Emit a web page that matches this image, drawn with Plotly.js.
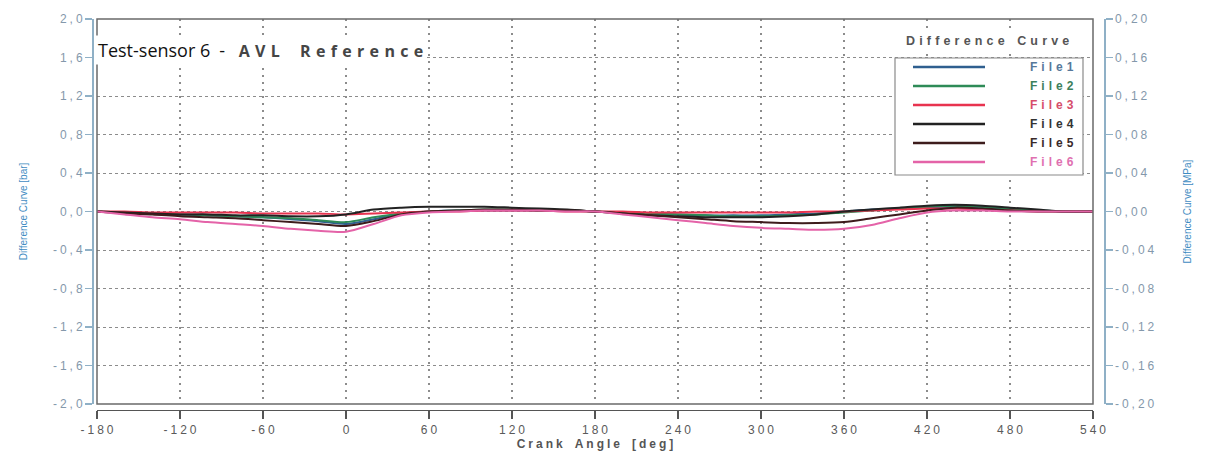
<!DOCTYPE html>
<html>
<head>
<meta charset="utf-8">
<script src="https://cdn.plot.ly/plotly-3.0.1.min.js"></script>
<style>
  html, body { margin: 0; padding: 0; background: #fff; }
  #chart { width: 1205px; height: 453px; }
</style>
</head>
<body>
<div id="chart"></div>
<script>
// Crank angle samples [deg]
const crankAngle = [-180,-160,-140,-120,-100,-80,-60,-40,-20,0,20,40,60,80,100,120,140,160,180,
  200,220,240,260,280,300,320,340,360,380,400,420,440,460,480,500,520,540];

// Difference curves [bar]
const file1 = [0,-0.01,-0.02,-0.03,-0.04,-0.05,-0.06,-0.08,-0.10,-0.13,-0.08,-0.02,0.0,0.01,0.01,0.01,0.01,0.01,0.0,
  -0.01,-0.02,-0.03,-0.04,-0.04,-0.04,-0.03,-0.02,0.0,0.02,0.03,0.04,0.05,0.04,0.02,0.01,0.0,0.0];
const file2 = [0,-0.01,-0.02,-0.03,-0.04,-0.05,-0.06,-0.07,-0.09,-0.11,-0.06,-0.02,0.0,0.01,0.02,0.02,0.01,0.01,0.0,
  -0.01,-0.02,-0.03,-0.04,-0.05,-0.05,-0.04,-0.03,-0.01,0.01,0.03,0.05,0.06,0.05,0.03,0.01,0.0,0.0];
const file3 = [0,0.0,-0.01,-0.01,-0.01,-0.01,-0.02,-0.02,-0.02,-0.03,-0.02,-0.01,0.0,0.0,0.01,0.01,0.01,0.0,0.0,
  0.0,-0.01,-0.01,-0.01,-0.01,-0.01,-0.01,0.0,0.0,0.01,0.02,0.03,0.03,0.02,0.01,0.0,0.0,0.0];
const file4 = [0,-0.01,-0.02,-0.03,-0.03,-0.04,-0.04,-0.05,-0.05,-0.03,0.02,0.04,0.05,0.05,0.05,0.04,0.03,0.02,0.0,
  -0.02,-0.04,-0.05,-0.06,-0.06,-0.06,-0.05,-0.03,0.0,0.02,0.04,0.06,0.07,0.06,0.04,0.02,0.0,0.0];
const file5 = [0,-0.02,-0.03,-0.05,-0.06,-0.07,-0.09,-0.11,-0.13,-0.15,-0.10,-0.03,0.0,0.01,0.02,0.02,0.01,0.01,0.0,
  -0.02,-0.04,-0.06,-0.08,-0.10,-0.11,-0.12,-0.12,-0.11,-0.07,-0.03,0.01,0.04,0.03,0.01,0.0,0.0,0.0];
const file6 = [0,-0.03,-0.06,-0.08,-0.11,-0.13,-0.15,-0.18,-0.20,-0.21,-0.13,-0.04,-0.01,0.0,0.01,0.01,0.01,0.0,0.0,
  -0.03,-0.06,-0.09,-0.12,-0.15,-0.17,-0.18,-0.19,-0.18,-0.14,-0.07,-0.01,0.01,0.01,0.0,0.0,0.0,0.0];

const seriesNames = ["File1","File2","File3","File4","File5","File6"];
const seriesData = [file1, file2, file3, file4, file5, file6];
const lineColors = ["#2f5f8f","#2e8b57","#e8334f","#222222","#3d1c1c","#e463a8"];
const labelColors = ["#56789a","#3d7f5c","#d64c6a","#333333","#3a2a2a","#e070b0"];

// Axis ticks
const xTicks = [-180,-120,-60,0,60,120,180,240,300,360,420,480,540];
const xTickText = ["-180","-120","-60","0","60","120","180","240","300","360","420","480","540"];
const yTicks = [2.0,1.6,1.2,0.8,0.4,0.0,-0.4,-0.8,-1.2,-1.6,-2.0];
const yTickText = ["2,0","1,6","1,2","0,8","0,4","0,0","-0,4","-0,8","-1,2","-1,6","-2,0"];
const y2Ticks = [0.20,0.16,0.12,0.08,0.04,0.00,-0.04,-0.08,-0.12,-0.16,-0.20];
const y2TickText = ["0,20","0,16","0,12","0,08","0,04","0,00","-0,04","-0,08","-0,12","-0,16","-0,20"];

// wide tracking, as in the instrument software labels
const track = (s, gap) => s.split("").join(gap || "\u2005");

// page geometry helpers (pixel -> paper)
const W = 1205, H = 453, ML = 92, MR = 101, MT = 19, MB = 43;
const PW = W - ML - MR, PH = H - MT - MB;
const px = x => (x - ML) / PW;
const py = y => (H - MB - y) / PH;

const traces = seriesData.map((ys, i) => ({
  type: "scatter", mode: "lines",
  x: crankAngle, y: ys, name: seriesNames[i],
  line: { color: lineColors[i], width: 2, shape: "spline", smoothing: 0.8 },
  xaxis: "x", yaxis: "y", hoverinfo: "x+y+name"
}));
// empty trace to carry the MPa axis
traces.push({ type: "scatter", mode: "lines", x: [], y: [], yaxis: "y2", showlegend: false, hoverinfo: "skip" });

const shapes = [
  // plot frame
  { type: "rect", xref: "paper", yref: "paper", x0: px(97), x1: px(1093), y0: py(404), y1: py(19),
    line: { color: "#6a6a6a", width: 1.5 }, layer: "above" },
  // legend box
  { type: "rect", xref: "paper", yref: "paper", x0: px(895), x1: px(1083), y0: py(175), y1: py(58),
    line: { color: "#8a8a8a", width: 1.2 }, fillcolor: "#ffffff", layer: "above" }
];
const annotations = [
  { xref: "paper", yref: "paper", x: px(95), y: py(50), xanchor: "left", yanchor: "middle",
    text: "Test-sensor 6\u2002-\u2002 <b><span style='font-size:16px;color:#454545'>" +
      track("AVL", "\u2004") + "\u2003 " + track("Reference", "\u2004") + "</span></b>",
    showarrow: false, bgcolor: "#ffffff", borderpad: 2,
    font: { family: "Open Sans, sans-serif", size: 18, color: "#111" } },
  { xref: "paper", yref: "paper", x: px(987), y: py(41), xanchor: "center", yanchor: "middle",
    text: "<b>" + track("Difference", "\u2004") + "\u2003" + track("Curve", "\u2004") + "</b>",
    showarrow: false, bgcolor: "#ffffff", borderpad: 2,
    font: { family: "Liberation Sans, Arial, sans-serif", size: 12.5, color: "#555" } }
];
seriesNames.forEach((n, i) => {
  const yy = 67 + i * 19;
  shapes.push({ type: "line", xref: "paper", yref: "paper", x0: px(913), x1: px(985), y0: py(yy), y1: py(yy),
    line: { color: lineColors[i], width: 2.6 }, layer: "above" });
  annotations.push({ xref: "paper", yref: "paper", x: px(1076), y: py(yy), xanchor: "right", yanchor: "middle",
    text: "<b>" + track(n, "\u2004") + "</b>", showarrow: false,
    font: { family: "Liberation Sans, Arial, sans-serif", size: 12, color: labelColors[i] } });
});

const layout = {
  width: W, height: H,
  margin: { l: ML, r: MR, t: MT, b: MB, pad: 0 },
  paper_bgcolor: "#ffffff", plot_bgcolor: "#ffffff",
  showlegend: false,
  font: { family: "Liberation Sans, Arial, sans-serif" },
  xaxis: {
    domain: [px(97), px(1093)], range: [-180, 540],
    anchor: "free", position: 0,
    tickvals: xTicks, ticktext: xTickText.map(s => track(s)),
    ticks: "outside", ticklen: 8, tickcolor: "#555", tickwidth: 1.2,
    showline: true, linecolor: "#555", linewidth: 1.2,
    showgrid: true, gridcolor: "#8c8c8c", griddash: "2px,5px", gridwidth: 1.3,
    zeroline: false,
    tickfont: { size: 12, color: "#5a5a5a" },
    title: { text: "<b>" + track("Crank") + "\u2003" + track("Angle") + "\u2003" + track("[deg]") + "</b>",
      font: { size: 12, color: "#555" }, standoff: 1 }
  },
  yaxis: {
    domain: [py(404), 1], range: [-2, 2],
    anchor: "free", position: 0,
    tickvals: yTicks, ticktext: yTickText.map(s => track(s)),
    ticks: "outside", ticklen: 7, tickcolor: "#8fb0c6", tickwidth: 1.2,
    showline: true, linecolor: "#8fb0c6", linewidth: 1.5,
    showgrid: true, gridcolor: "#8c8c8c", griddash: "3px,3px", gridwidth: 1,
    zeroline: false,
    tickfont: { size: 12, color: "#8498ab" },
    title: { text: "Difference Curve [bar]", font: { size: 10, color: "#3f8cc2" }, standoff: 22 }
  },
  yaxis2: {
    domain: [py(404), 1], range: [-0.2, 0.2],
    overlaying: "y", side: "right", anchor: "free", position: 1,
    tickvals: y2Ticks, ticktext: y2TickText.map(s => track(s)),
    ticks: "outside", ticklen: 7, tickcolor: "#8fb0c6", tickwidth: 1.2,
    showline: true, linecolor: "#8fb0c6", linewidth: 1.5,
    showgrid: false, zeroline: false,
    tickfont: { size: 12, color: "#8498ab" },
    title: { text: "Difference Curve [MPa]", font: { size: 10, color: "#3f8cc2" }, standoff: 30 }
  },
  shapes: shapes,
  annotations: annotations
};

Plotly.newPlot("chart", traces, layout, { displayModeBar: false, staticPlot: true });
</script>
</body>
</html>
